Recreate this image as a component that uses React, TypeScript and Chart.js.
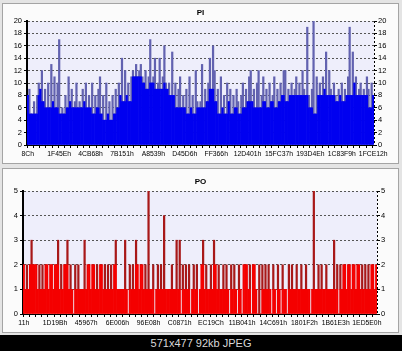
import React, { useEffect, useRef } from "react";
import { Chart, registerables } from "chart.js";
Chart.register(...registerables);

// ---------- DATA ----------
const piValues = [
  8, 9, 5, 5, 7, 5, 8, 10, 9, 12,
  7, 9, 6, 10, 6, 13, 7, 11, 6, 10,
  17, 5, 6, 5, 8, 6, 11, 7, 9, 6,
  7, 10, 6, 7, 6, 9, 7, 10, 6, 8,
  6, 10, 5, 8, 6, 9, 11, 5, 8, 4,
  10, 5, 7, 4, 8, 5, 9, 6, 10, 8,
  14, 7, 12, 8, 10, 7, 11, 12, 11, 13,
  11, 12, 13, 11, 10, 12, 9, 11, 17, 10,
  11, 14, 9, 10, 14, 9, 11, 16, 10, 9,
  10, 8, 15, 8, 10, 6, 9, 11, 6, 8,
  6, 9, 5, 11, 6, 8, 5, 12, 7, 6,
  7, 13, 6, 9, 7, 10, 14, 9, 16, 12,
  7, 9, 5, 11, 6, 8, 5, 10, 7, 9,
  5, 8, 6, 9, 7, 5, 8, 10, 6, 9,
  7, 11, 12, 7, 9, 6, 10, 12, 6, 8,
  11, 7, 9, 6, 10, 7, 8, 11, 6, 9,
  7, 10, 8, 12, 12, 7, 9, 8, 10, 8,
  9, 11, 8, 10, 8, 12, 9, 8, 19, 8,
  6, 9, 20, 5, 11, 8, 10, 8, 11, 9,
  15, 8, 12, 9, 8, 10, 8, 7, 9, 8,
  10, 7, 9, 8, 11, 19, 8, 15, 10, 11,
  8, 9, 10, 8, 9, 8, 11, 9, 6, 10,
  8,
];
const piTickLabels = [
  "8Ch", "1F45Eh", "4CB68h", "7B151h", "A8539h", "D45D6h",
  "FF366h", "12D401h", "15FC37h", "193D4Eh", "1C83F9h", "1FCE12h",
];

const poValues = [
  2, 1, 2, 1, 2, 3, 2, 2, 2, 1,
  2, 1, 2, 1, 2, 2, 1, 2, 2, 1,
  2, 2, 3, 1, 2, 1, 2, 2, 3, 1,
  2, 1, 0, 2, 1, 2, 1, 1, 1, 3,
  1, 2, 2, 1, 2, 2, 1, 2, 1, 2,
  2, 1, 2, 1, 2, 1, 2, 1, 2, 3,
  1, 1, 1, 1, 1, 3, 1, 0, 2, 1,
  2, 1, 3, 2, 1, 2, 2, 1, 2, 1,
  5, 1, 1, 2, 0, 1, 2, 1, 2, 1,
  4, 1, 1, 1, 1, 2, 1, 1, 3, 1,
  3, 0, 2, 1, 2, 1, 2, 0, 1, 2,
  1, 2, 0, 1, 2, 3, 1, 2, 1, 1,
  2, 1, 3, 2, 1, 2, 1, 1, 2, 1,
  2, 1, 0, 2, 1, 2, 1, 0, 2, 1,
  0, 2, 2, 2, 1, 2, 0, 2, 2, 1,
  0, 2, 0, 2, 1, 2, 1, 2, 1, 0,
  2, 1, 0, 2, 1, 0, 2, 1, 1, 0,
  2, 1, 2, 1, 1, 2, 1, 1, 2, 1,
  1, 2, 1, 1, 0, 1, 5, 1, 1, 2,
  1, 2, 1, 1, 2, 1, 1, 1, 1, 3,
  1, 2, 0, 2, 1, 2, 2, 1, 2, 2,
  1, 2, 2, 1, 2, 2, 1, 2, 1, 2,
  1, 2, 1, 2, 2, 1, 2,
];
const poTickLabels = [
  "11h", "1D19Bh", "45967h", "6E006h", "96E08h", "C0871h",
  "EC19Ch", "11B041h", "14C691h", "1801F2h", "1B61E3h", "1ED5E0h",
];

// ---------- CHART ----------
const FONT = "'Liberation Sans', Arial, sans-serif";

function splitSpikes(v: number[], mode: "min3" | "maxNb") {
  const floor: number[] = [];
  const top: number[] = [];
  for (let i = 0; i < v.length; i++) {
    const l = i > 0 ? v[i - 1] : v[i];
    const r = i < v.length - 1 ? v[i + 1] : v[i];
    const f = mode === "min3" ? Math.min(v[i], l, r) : Math.min(v[i], Math.max(l, r));
    floor.push(f);
    top.push(v[i] - f);
  }
  return { floor, top };
}

const plotPlugin = {
  id: "plotDeco",
  beforeDraw(chart: any) {
    const { ctx, chartArea } = chart;
    if (!chartArea) return;
    ctx.save();
    ctx.fillStyle = "#eeeefb";
    ctx.fillRect(chartArea.left, chartArea.top, chartArea.right - chartArea.left, chartArea.bottom - chartArea.top);
    ctx.restore();
  },
  afterDraw(chart: any) {
    const { ctx, chartArea } = chart;
    ctx.save();
    ctx.strokeStyle = "#000";
    ctx.lineWidth = 1;
    ctx.setLineDash([2, 2]);
    ctx.beginPath();
    ctx.moveTo(Math.round(chartArea.right) + 0.5, chartArea.top);
    ctx.lineTo(Math.round(chartArea.right) + 0.5, chartArea.bottom);
    ctx.stroke();
    ctx.restore();
  },
};

type PanelProps = {
  values: number[];
  tickLabels: string[];
  title: string;
  yMax: number;
  yStep: number;
  baseColor: string;
  topColor: string;
  splitMode: "min3" | "maxNb";
  leftW: number;
  rightW: number;
  titlePadTop: number;
  titlePadBottom: number;
  width: number;
  height: number;
  left: number;
  top: number;
};

function BarPanel(p: PanelProps) {
  const ref = useRef<HTMLCanvasElement>(null);
  useEffect(() => {
    if (!ref.current) return;
    const { floor, top } = splitSpikes(p.values, p.splitMode);
    const labels = p.values.map((_, i) => String(i));
    const step = 20;
    const yFont = { family: FONT, size: 7.5 };
    const xFont = { family: FONT, size: 6.8 };
    const chart = new Chart(ref.current, {
      type: "bar",
      data: {
        labels,
        datasets: [
          { data: floor, backgroundColor: p.baseColor, borderWidth: 0, barPercentage: 1, categoryPercentage: 1 },
          { data: top, backgroundColor: p.topColor, borderWidth: 0, barPercentage: 1, categoryPercentage: 1 },
        ],
      },
      options: {
        animation: false,
        responsive: false,
        maintainAspectRatio: false,
        layout: { padding: 0 },
        plugins: {
          legend: { display: false },
          tooltip: { enabled: false },
          title: {
            display: true,
            text: p.title,
            color: "#000",
            font: { family: FONT, size: 8, weight: "bold", lineHeight: 1 },
            padding: { top: p.titlePadTop, bottom: p.titlePadBottom },
          },
        },
        scales: {
          x: {
            stacked: true,
            afterFit: (s: any) => { s.height = 19; },
            ticks: {
              autoSkip: false,
              maxRotation: 0,
              minRotation: 0,
              padding: 2,
              color: "#000",
              font: xFont,
              callback: (_v: any, idx: number) => (idx % step === 0 ? p.tickLabels[idx / step] ?? "" : ""),
            },
            grid: {
              display: true,
              drawOnChartArea: false,
              tickLength: 3,
              color: (c: any) => (c.index % 4 === 0 ? "#000" : "rgba(0,0,0,0)"),
              tickColor: (c: any) => (c.index % 4 === 0 ? "#000" : "rgba(0,0,0,0)"),
            },
            border: { display: true, color: "#000", width: 1 },
          },
          y: {
            stacked: true,
            position: "left",
            min: 0,
            max: p.yMax,
            afterFit: (s: any) => { s.width = p.leftW; },
            ticks: { stepSize: p.yStep, color: "#000", font: yFont, padding: 2 },
            grid: { color: "#555", lineWidth: 1, tickLength: 3, tickColor: "#000", tickBorderDash: [] },
            border: { display: true, color: "#000", width: 2, dash: [2, 2] },
          },
          y2: {
            position: "right",
            min: 0,
            max: p.yMax,
            afterFit: (s: any) => { s.width = p.rightW; },
            ticks: { stepSize: p.yStep, color: "#000", font: yFont, padding: 1 },
            grid: { drawOnChartArea: false, tickLength: 3, tickColor: "#000", color: "#000" },
            border: { display: false },
          },
        },
      } as any,
      plugins: [plotPlugin],
    });
    return () => chart.destroy();
  }, []);
  return (
    <>
      <div
        style={{
          position: "absolute",
          left: p.left,
          top: p.top,
          width: p.width,
          height: p.height,
          boxSizing: "border-box",
          border: "1px solid #a4a4a4",
          background: "#fbfbfb",
        }}
      />
      <canvas
        ref={ref}
        width={p.width}
        height={p.height}
        style={{ position: "absolute", left: p.left, top: p.top, width: p.width, height: p.height }}
      />
    </>
  );
}

export default function App() {
  useEffect(() => {
    document.body.style.margin = "0";
  }, []);
  return (
    <div style={{ position: "fixed", left: 0, top: 0, width: 402, height: 351, background: "#e4e4e4", overflow: "hidden" }}>
      <BarPanel
        values={piValues}
        tickLabels={piTickLabels}
        title="PI"
        yMax={20}
        yStep={2}
        baseColor="#0000f0"
        topColor="#6262b0"
        splitMode="min3"
        leftW={25}
        rightW={25}
        titlePadTop={6}
        titlePadBottom={4}
        left={2}
        top={3}
        width={397}
        height={161}
      />
      <BarPanel
        values={poValues}
        tickLabels={poTickLabels}
        title="PO"
        yMax={5}
        yStep={1}
        baseColor="#f40000"
        topColor="#a81818"
        splitMode="maxNb"
        leftW={21}
        rightW={22}
        titlePadTop={10}
        titlePadBottom={5}
        left={2}
        top={168}
        width={397}
        height={165}
      />
      <div
        style={{
          position: "absolute",
          left: 0,
          top: 335,
          width: 402,
          height: 16,
          background: "#000",
          color: "#d8d8d8",
          fontFamily: FONT,
          fontSize: 11,
          lineHeight: "16px",
          textAlign: "center",
        }}
      >
        571x477 92kb JPEG
      </div>
    </div>
  );
}
